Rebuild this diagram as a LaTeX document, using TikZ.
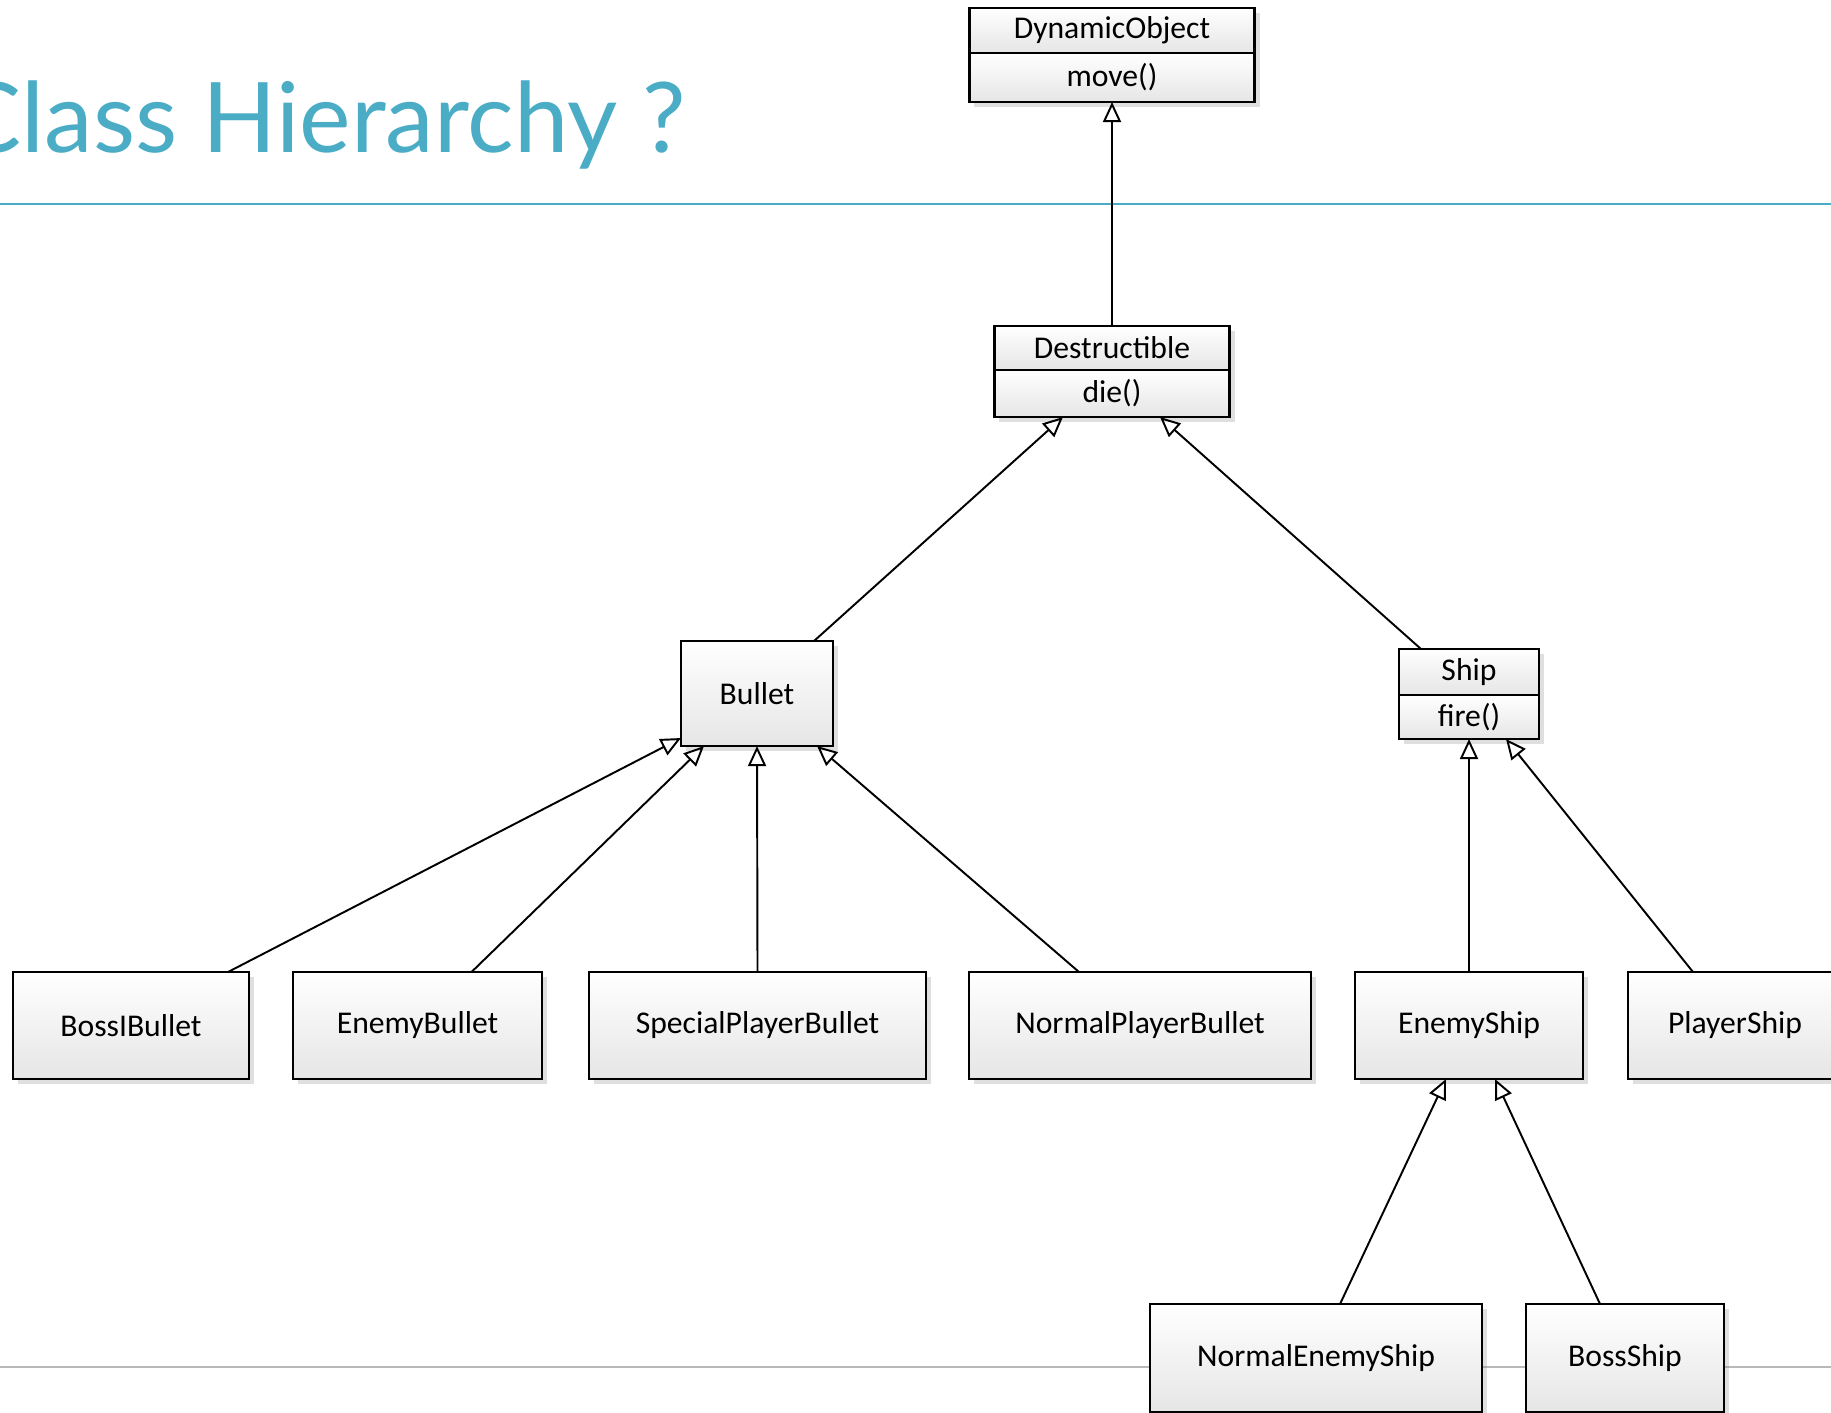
\documentclass[tikz,border=0pt]{standalone}
\usepackage{fontspec}
\setmainfont{Carlito}
\newfontfamily\titlefont{Lato}
\usetikzlibrary{arrows.meta,shadows}
\definecolor{titleblue}{RGB}{75,172,198}

\begin{document}
\begin{tikzpicture}[x=0.01cm,y=-0.01cm,
        cls/.style={draw,line width=0.75pt,top color=white,bottom color=gray!20,
            drop shadow={shadow xshift=0.05cm,shadow yshift=-0.05cm,opacity=0.25},
            inner sep=0pt,outer sep=0pt,font=\fontsize{9}{11}\selectfont},
        inherit/.style={-{Triangle[open,length=0.2cm,width=0.18cm]},line width=0.55pt}]
        \useasboundingbox (0,0) rectangle (1831,1412);
        \node[anchor=base west,inner sep=0pt,text=titleblue,font=\titlefont\fontsize{27.7}{32}\selectfont] (title) at (-44,152) {Class Hierarchy ?};
        \draw[titleblue,line width=0.55pt] (0,204) -- (1831,204);
        \draw[gray!55,line width=0.45pt] (0,1367) -- (1831,1367);
        % top of the hierarchy
        \node[cls,minimum width=2.85cm,minimum height=0.45cm] (dyn) at (1112,30.5) {DynamicObject};
        \node[cls,minimum width=2.85cm,minimum height=0.49cm] (dynm) at (1112,77.5) {move()};
        \node[cls,minimum width=2.35cm,minimum height=0.44cm] (dest) at (1112,348) {Destructible};
        \node[cls,minimum width=2.35cm,minimum height=0.47cm] (destm) at (1112,393.5) {die()};
        \node[cls,minimum width=1.52cm,minimum height=1.05cm] (bullet) at (757,693.5) {Bullet};
        \node[cls,minimum width=1.40cm,minimum height=0.46cm] (ship) at (1469,672) {Ship};
        \node[cls,minimum width=1.40cm,minimum height=0.44cm] (shipm) at (1469,717) {fire()};
        % leaves
        \node[cls,minimum width=2.36cm,minimum height=1.07cm] (bossb) at (131,1025.5) {BossIBullet};
        \node[cls,minimum width=2.49cm,minimum height=1.07cm] (enemyb) at (417.5,1025.5) {EnemyBullet};
        \node[cls,minimum width=3.37cm,minimum height=1.07cm] (special) at (757.5,1025.5) {SpecialPlayerBullet};
        \node[cls,minimum width=3.42cm,minimum height=1.07cm] (normalb) at (1140,1025.5) {NormalPlayerBullet};
        \node[cls,minimum width=2.28cm,minimum height=1.07cm] (enemys) at (1469,1025.5) {EnemyShip};
        \node[cls,minimum width=2.14cm,minimum height=1.07cm] (players) at (1735,1025.5) {PlayerShip};
        \node[cls,minimum width=3.32cm,minimum height=1.08cm] (normales) at (1316,1358) {NormalEnemyShip};
        \node[cls,minimum width=1.98cm,minimum height=1.08cm] (bosss) at (1625,1358) {BossShip};
        % inheritance
        \draw[inherit] (dest.north) -- (dynm.south);
        \draw[inherit] ([xshift=-0.19cm]bullet.north east) -- ([xshift=-0.49cm]destm.south);
        \draw[inherit] ([xshift=0.22cm]ship.north west) -- ([xshift=0.48cm]destm.south);
        \draw[inherit] ([xshift=-0.21cm]bossb.north east) -- ([yshift=0.08cm]bullet.south west);
        \draw[inherit] ([xshift=0.54cm]enemyb.north) -- ([xshift=0.23cm]bullet.south west);
        \draw[inherit] (special.north) -- (bullet.south);
        \draw[inherit] ([xshift=-0.61cm]normalb.north) -- ([xshift=-0.16cm]bullet.south east);
        \draw[inherit] (enemys.north) -- (shipm.south);
        \draw[inherit] ([xshift=-0.42cm]players.north) -- ([xshift=0.37cm]shipm.south);
        \draw[inherit] ([xshift=0.24cm]normales.north) -- ([xshift=-0.23cm]enemys.south);
        \draw[inherit] ([xshift=-0.25cm]bosss.north) -- ([xshift=0.26cm]enemys.south);
    \end{tikzpicture}
\end{document}
